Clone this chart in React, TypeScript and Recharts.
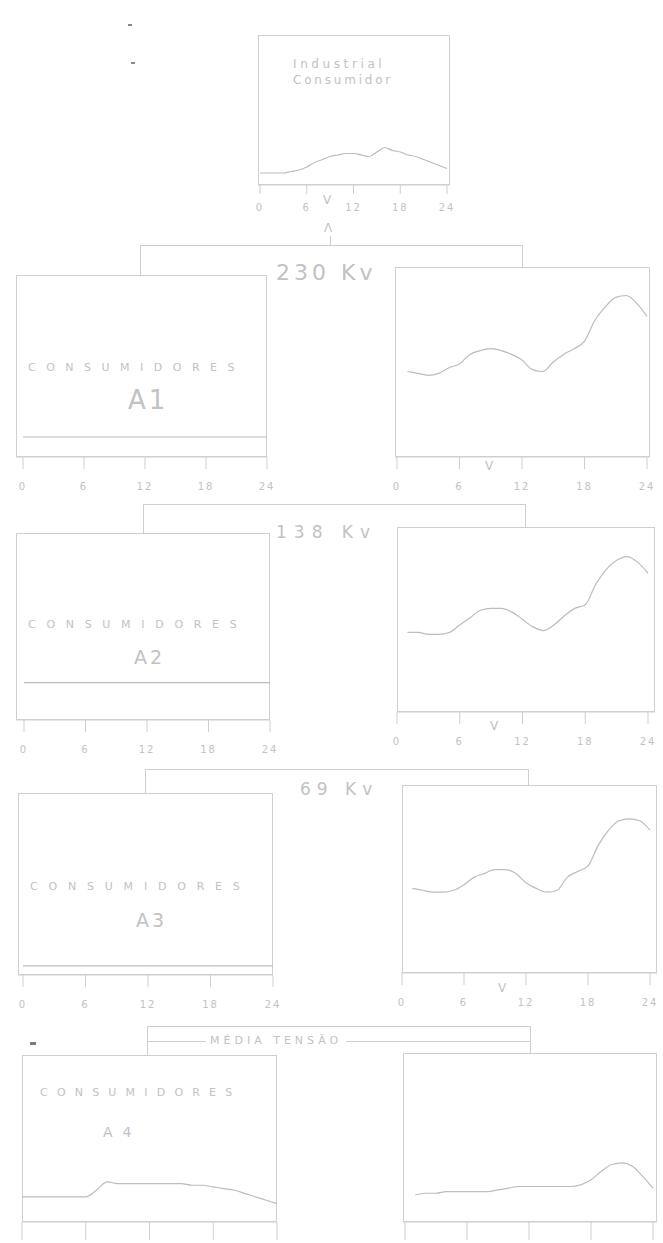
import React from 'react';
import { LineChart, Line, XAxis, YAxis } from 'recharts';

// hours of the day
const hours = [1, 2, 3, 4, 5, 6, 7, 8, 9, 10, 11, 12, 13, 14, 15, 16, 17, 18, 19, 20, 21, 22, 23, 24];
const hoursFull = [0, 1, 2, 3, 4, 5, 6, 7, 8, 9, 10, 11, 12, 13, 14, 15, 16, 17, 18, 19, 20, 21, 22, 23, 24];
const edges = [0, 24];
const tickHours = [0, 6, 12, 18, 24];

// load curves (relative units, 0-100)
const industrial = [8, 8, 8, 8, 9, 10, 12, 15, 17, 19, 20, 21, 21, 20, 19, 22, 25, 23, 22, 20, 19, 17, 15, 13, 11];
const load230 = [45, 44, 43, 44, 47, 49, 54, 56, 57, 56, 54, 51, 46, 45, 50, 54, 57, 61, 72, 79, 84, 85, 81, 74];
const load138 = [43, 43, 42, 42, 43, 47, 51, 55, 56, 56, 54, 50, 46, 44, 47, 52, 56, 58, 69, 77, 82, 84, 81, 75];
const load69 = [45, 44, 43, 43, 44, 47, 51, 53, 55, 55, 53, 48, 45, 43, 44, 51, 54, 57, 68, 76, 81, 82, 81, 76];
const loadLow = [16, 17, 17, 18, 18, 18, 18, 18, 19, 20, 21, 21, 21, 21, 21, 21, 22, 25, 30, 34, 35, 33, 27, 20];
const consA1 = [11, 11];
const consA2 = [20, 20];
const consA3 = [5, 5];
const consA4 = [15, 15, 15, 15, 15, 15, 15, 19, 24, 23, 23, 23, 23, 23, 23, 23, 22, 22, 21, 20, 19, 17, 15, 13, 11];

const rows = (xs: number[], ys: number[]) => xs.map((hour, i) => ({ hour, value: ys[i] }));

const FRAME = '#cfcfcf';
const INK = '#bcbcbc';
const TEXT = '#c2c2c2';

const noLabel = () => <g />;

function Panel({ x, y, w, h, data, pad = [0, 0], tickSize = 12, tickMargin = 14, labels = true }: any) {
  const side = 12;
  return (
    <div style={{ position: 'absolute', left: x - side, top: y }}>
      <div style={{ position: 'absolute', left: side, top: 0, width: w, height: h, border: `1px solid ${FRAME}`, boxSizing: 'border-box' }} />
      <LineChart width={w + side * 2} height={h + 50} data={data} margin={{ top: 0, right: side, bottom: 0, left: side }}>
        <XAxis
          dataKey="hour"
          type="number"
          domain={[0, 24]}
          ticks={tickHours}
          interval={0}
          height={50}
          padding={{ left: pad[0], right: pad[1] }}
          stroke={FRAME}
          tickSize={tickSize}
          tickMargin={tickMargin}
          tick={labels ? { fill: TEXT, fontSize: 10, letterSpacing: 2 } : noLabel}
        />
        <YAxis hide domain={[0, 100]} />
        <Line type="monotone" dataKey="value" stroke={INK} strokeWidth={1.2} dot={false} isAnimationActive={false} />
      </LineChart>
    </div>
  );
}

function Label({ x, y, size, spacing = 0, bg, children }: any) {
  return (
    <div
      style={{
        position: 'absolute', left: x, top: y, fontSize: size, lineHeight: 1, letterSpacing: spacing,
        color: TEXT, whiteSpace: 'nowrap', background: bg, padding: bg ? '0 4px' : 0,
      }}
    >
      {children}
    </div>
  );
}

function HRule({ y, x1, x2 }: any) {
  return <div style={{ position: 'absolute', left: x1, top: y, width: x2 - x1, height: 1, background: FRAME }} />;
}

function VRule({ x, y1, y2 }: any) {
  return <div style={{ position: 'absolute', left: x, top: y1, width: 1, height: y2 - y1, background: FRAME }} />;
}

export default function App() {
  return (
    <div style={{ position: 'absolute', left: 0, top: 0, width: 663, height: 1243, overflow: 'hidden', background: '#fff', fontFamily: '"DejaVu Sans", sans-serif' }}>
      <div style={{ position: 'absolute', left: 128, top: 24, width: 4, height: 2, background: '#8a8a8a' }} />
      <div style={{ position: 'absolute', left: 131, top: 62, width: 4, height: 2, background: '#8a8a8a' }} />
      <div style={{ position: 'absolute', left: 30, top: 1042, width: 6, height: 3, background: '#7a7a7a' }} />

      {/* top */}
      <Panel x={258} y={35} w={192} h={150} data={rows(hoursFull, industrial)} pad={[2, 3]} tickSize={9} tickMargin={10} />
      <Label x={293} y={58} size={12} spacing={3.6}>Industrial</Label>
      <Label x={293} y={74} size={12} spacing={2.8}>Consumidor</Label>
      <Label x={323} y={194} size={12}>V</Label>
      <Label x={324} y={222} size={12}>Λ</Label>
      <VRule x={330} y1={236} y2={245} />
      <HRule y={245} x1={140} x2={523} />
      <VRule x={140} y1={245} y2={275} />
      <VRule x={522} y1={245} y2={267} />

      {/* 230 kV */}
      <Label x={276} y={262} size={22} spacing={4}>230 Kv</Label>
      <Panel x={16} y={275} w={251} h={182} data={rows(edges, consA1)} pad={[7, 0]} />
      <Label x={28} y={362} size={11} spacing={10.5}>CONSUMIDORES</Label>
      <Label x={128} y={387} size={26} spacing={3}>A1</Label>
      <Panel x={395} y={267} w={255} h={190} data={rows(hours, load230)} pad={[2, 3]} />
      <Label x={485} y={460} size={12}>V</Label>

      {/* 138 kV */}
      <HRule y={504} x1={143} x2={526} />
      <VRule x={143} y1={504} y2={533} />
      <VRule x={525} y1={504} y2={527} />
      <Label x={276} y={524} size={17} spacing={7}>138 Kv</Label>
      <Panel x={16} y={533} w={254} h={187} data={rows(edges, consA2)} pad={[8, 0]} />
      <Label x={28} y={619} size={11} spacing={10.7}>CONSUMIDORES</Label>
      <Label x={134} y={648} size={19} spacing={3}>A2</Label>
      <Panel x={397} y={527} w={258} h={185} data={rows(hours, load138)} pad={[0, 7]} />
      <Label x={490} y={720} size={12}>V</Label>

      {/* 69 kV */}
      <HRule y={769} x1={145} x2={529} />
      <VRule x={145} y1={769} y2={793} />
      <VRule x={528} y1={769} y2={785} />
      <Label x={300} y={781} size={17} spacing={6}>69 Kv</Label>
      <Panel x={18} y={793} w={255} h={182} data={rows(edges, consA3)} pad={[5, 0]} />
      <Label x={30} y={881} size={11} spacing={10.8}>CONSUMIDORES</Label>
      <Label x={136} y={911} size={19} spacing={3}>A3</Label>
      <Panel x={402} y={785} w={255} h={188} data={rows(hours, load69)} pad={[0, 7]} />
      <Label x={498} y={982} size={12}>V</Label>

      {/* distribution */}
      <HRule y={1026} x1={147} x2={531} />
      <HRule y={1041} x1={147} x2={531} />
      <VRule x={147} y1={1026} y2={1055} />
      <VRule x={530} y1={1026} y2={1053} />
      <Label x={206} y={1035} size={11} spacing={4} bg="#fff">MÉDIA TENSÃO</Label>
      <Panel x={22} y={1055} w={255} h={167} data={rows(hoursFull, consA4)} tickSize={18} labels={false} />
      <Label x={40} y={1087} size={11} spacing={9.2}>CONSUMIDORES</Label>
      <Label x={103} y={1125} size={14} spacing={10}>A4</Label>
      <Panel x={403} y={1053} w={254} h={169} data={rows(hours, loadLow)} pad={[2, 4]} tickSize={18} labels={false} />
    </div>
  );
}
